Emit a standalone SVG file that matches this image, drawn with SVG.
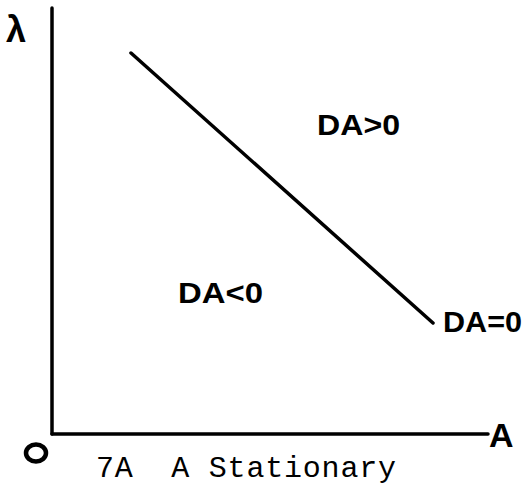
<svg xmlns="http://www.w3.org/2000/svg" width="524" height="494" viewBox="0 0 524 494">
<style>
.hand{font-family:"Liberation Sans",Arial,sans-serif;font-weight:bold;fill:#000}
.ax{stroke:#000;stroke-width:3.5;fill:none;stroke-linecap:round}
.cap{font-family:"Liberation Mono","Courier New",monospace;fill:#000}
</style>
<rect width="524" height="494" fill="#fff"/>
<g id="connectors">
<line class="ax" x1="52" y1="8" x2="52" y2="434"/>
<line class="ax" x1="52" y1="434" x2="488" y2="434"/>
<line class="ax" x1="131" y1="53" x2="433" y2="323"/>
</g>
<g id="label-lambda"><text class="hand" x="6" y="42" font-size="36">λ</text></g>
<g id="label-origin"><ellipse cx="36" cy="453" rx="10" ry="8.5" fill="none" stroke="#000" stroke-width="4.5"/></g>
<g id="label-A"><text class="hand" x="489" y="447" font-size="34">A</text></g>
<g id="label-pos"><text class="hand" x="317" y="135" font-size="29" textLength="83" lengthAdjust="spacingAndGlyphs">DA&gt;0</text></g>
<g id="label-neg"><text class="hand" x="178" y="303" font-size="29" textLength="85" lengthAdjust="spacingAndGlyphs">DA&lt;0</text></g>
<g id="label-zero"><text class="hand" x="443" y="332" font-size="29" textLength="79" lengthAdjust="spacingAndGlyphs">DA=0</text></g>
<g id="caption"><text class="cap" x="96" y="477" font-size="30" textLength="300" xml:space="preserve">7A  A Stationary</text></g>
</svg>
